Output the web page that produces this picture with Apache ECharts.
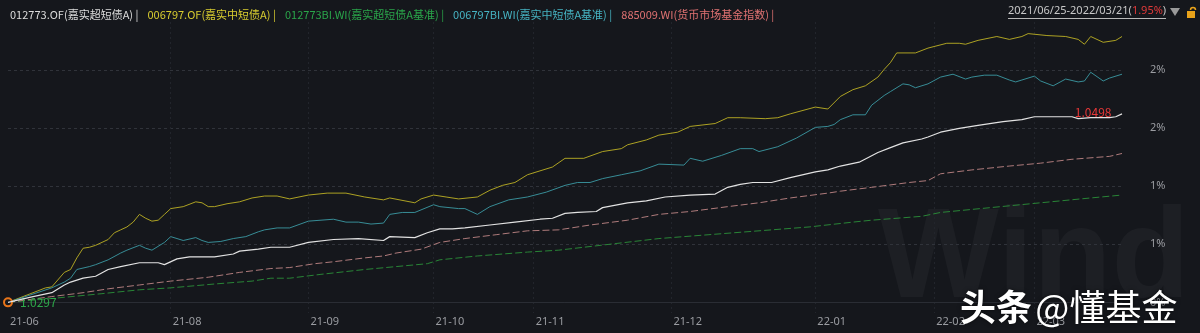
<!DOCTYPE html>
<html><head><meta charset="utf-8">
<script src="https://cdn.jsdelivr.net/npm/echarts@6/dist/echarts.min.js"></script>
<style>html,body{margin:0;padding:0;background:#15171c;overflow:hidden}#c{width:1200px;height:333px}</style>
</head><body><div id="c"></div>
<script>
// ---- categories: trading days 2021-06-25 .. 2022-03-21 ----
const startDate = '2021-06-25';
const endDate = '2022-03-21';
const holidays = ['2021-09-20','2021-09-21','2021-10-01','2021-10-04','2021-10-05','2021-10-06','2021-10-07',
  '2022-01-03','2022-01-31','2022-02-01','2022-02-02','2022-02-03','2022-02-04'];
function buildTradingDays() {
  const out = [];
  let t = Date.parse(startDate + 'T00:00:00Z');
  const end = Date.parse(endDate + 'T00:00:00Z');
  while (t <= end) {
    const d = new Date(t);
    const wd = d.getUTCDay();
    const s = d.toISOString().slice(0, 10);
    if (wd !== 0 && wd !== 6 && holidays.indexOf(s) < 0) out.push(s);
    t += 86400000;
  }
  return out;
}
const tradingDays = buildTradingDays();

// ---- series names ----
const seriesNames = ['012773.OF(嘉实超短债A)', '006797.OF(嘉实中短债A)', '012773BI.WI(嘉实超短债A基准)',
  '006797BI.WI(嘉实中短债A基准)', '885009.WI(货币市场基金指数)'];

// ---- values: cumulative return (%) at trading-day index ----
const whiteDays = [0,4,7,9,10,12,14,16,18,21,24,25,27,29,33,36,37,40,42,45,48,52,56,60,61,65,67,69,71,73,77,81,85,87,89,91,94,95,99,102,105,109,113,115,117,119,122,125,129,131,133,136,139,141,143,146,147,149,152,155,159,162,164,168,170,171,173,176,177,178];
const whiteVals = [0,0.06,0.10,0.18,0.21,0.25,0.27,0.34,0.37,0.41,0.41,0.39,0.45,0.47,0.47,0.50,0.53,0.55,0.57,0.57,0.62,0.65,0.66,0.64,0.68,0.67,0.72,0.76,0.76,0.77,0.80,0.83,0.86,0.87,0.92,0.93,0.94,0.98,1.03,1.05,1.09,1.11,1.12,1.19,1.22,1.24,1.24,1.29,1.35,1.37,1.41,1.45,1.55,1.60,1.65,1.69,1.71,1.76,1.80,1.83,1.87,1.89,1.92,1.92,1.92,1.90,1.91,1.91,1.92,1.95];

const yellowDays = [0,6,7,9,10,11,12,13,14,16,17,18,19,20,21,22,23,24,25,26,28,30,31,32,33,35,37,39,41,43,45,48,51,54,57,60,61,65,66,68,70,72,75,77,79,81,83,85,87,89,92,95,98,99,102,104,107,109,113,115,117,121,123,125,129,131,133,135,137,139,140,141,142,145,147,150,152,153,155,158,160,162,163,166,169,171,172,173,175,177,178];
const yellowVals = [0,0.15,0.16,0.31,0.34,0.46,0.56,0.57,0.59,0.65,0.72,0.75,0.78,0.83,0.91,0.87,0.84,0.85,0.91,0.97,0.99,1.04,1.03,0.99,0.99,1.02,1.04,1.08,1.10,1.10,1.07,1.11,1.13,1.13,1.09,1.06,1.08,1.03,1.07,1.11,1.09,1.07,1.09,1.16,1.21,1.24,1.32,1.36,1.40,1.49,1.49,1.56,1.59,1.63,1.68,1.73,1.76,1.82,1.85,1.91,1.91,1.90,1.91,1.95,2.02,2.00,2.13,2.20,2.24,2.33,2.41,2.48,2.58,2.58,2.63,2.68,2.68,2.67,2.71,2.75,2.72,2.75,2.78,2.76,2.75,2.72,2.67,2.75,2.69,2.71,2.75];

const greenDays = [0,7,15,21,26,33,39,42,45,50,57,62,67,69,75,83,88,96,104,112,120,128,135,138,146,149,157,165,173,178];
const greenVals = [0,0.04,0.09,0.13,0.15,0.19,0.22,0.25,0.25,0.29,0.34,0.37,0.40,0.44,0.48,0.52,0.54,0.60,0.66,0.70,0.74,0.78,0.83,0.85,0.89,0.93,0.98,1.03,1.08,1.11];

const cyanDays = [0,7,9,10,11,13,14,16,18,19,21,22,23,25,26,28,30,31,32,34,36,38,40,41,43,45,48,52,54,56,58,60,61,63,65,68,69,72,73,75,77,80,83,86,89,91,93,95,98,101,104,108,109,111,114,117,119,120,123,126,129,131,132,133,135,137,138,140,141,143,144,145,147,149,151,153,154,156,158,160,161,162,164,165,167,169,171,172,173,175,176,178];
const cyanVals = [0,0.15,0.21,0.25,0.34,0.37,0.39,0.44,0.51,0.54,0.59,0.56,0.54,0.62,0.68,0.64,0.67,0.64,0.62,0.63,0.66,0.68,0.73,0.75,0.77,0.77,0.84,0.86,0.83,0.83,0.81,0.82,0.91,0.93,0.93,1.01,0.99,0.97,0.97,0.91,0.99,1.06,1.09,1.14,1.21,1.24,1.24,1.28,1.32,1.36,1.43,1.42,1.49,1.46,1.52,1.59,1.59,1.56,1.61,1.70,1.81,1.82,1.84,1.89,1.94,1.94,2.04,2.14,2.18,2.26,2.25,2.22,2.26,2.33,2.36,2.31,2.33,2.35,2.35,2.30,2.28,2.30,2.34,2.29,2.24,2.31,2.28,2.29,2.38,2.29,2.32,2.36];

const pinkDays = [0,7,12,16,21,26,32,37,42,45,49,52,57,60,62,66,69,73,78,83,88,90,93,99,104,109,115,120,125,131,133,138,144,147,149,154,160,165,170,176,178];
const pinkVals = [0,0.06,0.10,0.14,0.18,0.22,0.26,0.31,0.35,0.36,0.40,0.42,0.46,0.48,0.51,0.55,0.62,0.66,0.70,0.74,0.75,0.77,0.80,0.85,0.91,0.94,0.99,1.03,1.08,1.13,1.15,1.19,1.24,1.26,1.33,1.37,1.41,1.44,1.48,1.51,1.54];

// ---- y ticks and NAV labels ----
const yTickValues = [0, 0.6, 1.2, 1.8, 2.4];
const startNav = 1.0297;
const endNav = 1.0498;
const periodText = '2021/06/25-2022/03/21';
const periodReturn = '1.95%';

const lineColors = ['#e2e2e2', '#bdb124', '#2a9139', '#3b9aa4', '#c08686'];
const textColors = ['#dcdcdc', '#d8cc30', '#2aa54a', '#46b3c2', '#e07272'];

function pairs(days, vals) { return days.map((d, i) => [tradingDays[d], vals[i]]); }
function isMonthStart(i) { return i === 0 || tradingDays[i].slice(0, 7) !== tradingDays[i - 1].slice(0, 7); }

const font = '"Noto Sans CJK SC", "Noto Sans", sans-serif';
const bg = '#15171c';

const chart = echarts.init(document.getElementById('c'), null, { renderer: 'canvas' });

const lastW = whiteDays.length - 1;
const seriesData = [pairs(whiteDays, whiteVals), pairs(yellowDays, yellowVals), pairs(greenDays, greenVals),
  pairs(cyanDays, cyanVals), pairs(pinkDays, pinkVals)];

const series = seriesNames.map((name, k) => ({
  name: name,
  type: 'line',
  data: seriesData[k],
  showSymbol: false,
  symbol: 'none',
  z: k === 0 ? 5 : 3,
  lineStyle: {
    color: lineColors[k],
    width: k === 0 ? 1.2 : 0.9,
    type: (k === 2 || k === 4) ? [7, 3] : 'solid'
  },
  itemStyle: { color: lineColors[k] },
  emphasis: { disabled: true }
}));

series[0].markPoint = {
  silent: true,
  animation: false,
  data: [
    {
      coord: [tradingDays[whiteDays[0]], whiteVals[0]],
      symbol: 'circle', symbolSize: 8,
      itemStyle: { color: bg, borderColor: '#e8751a', borderWidth: 2 },
      label: { show: true, formatter: startNav.toFixed(4), position: 'right', distance: 7,
        color: '#2ea84a', fontSize: 12, fontFamily: font }
    },
    {
      coord: [tradingDays[whiteDays[lastW]], whiteVals[lastW]],
      symbol: 'circle', symbolSize: 1,
      itemStyle: { color: 'rgba(0,0,0,0)' },
      label: { show: true, formatter: endNav.toFixed(4), position: 'left', distance: 10, offset: [0, -1],
        color: '#e83838', fontSize: 12, fontFamily: font }
    }
  ]
};

const option = {
  backgroundColor: bg,
  animation: false,
  textStyle: { fontFamily: font },
  legend: {
    left: 0, top: 4,
    icon: 'none', itemWidth: 0, itemHeight: 10, itemGap: 4,
    selectedMode: false,
    formatter: n => n + ' |',
    textStyle: { fontSize: 11, fontFamily: font, padding: 0 },
    data: seriesNames.map((n, k) => ({ name: n, textStyle: { color: textColors[k] } }))
  },
  grid: { left: 8, right: 78, top: 22, bottom: 20, containLabel: false },
  xAxis: {
    type: 'category',
    data: tradingDays,
    boundaryGap: false,
    axisLine: { show: true, lineStyle: { color: '#2a2d34', width: 1 } },
    axisTick: { show: false },
    axisLabel: {
      interval: (i) => isMonthStart(i) && (i === 0 || i >= 10),
      formatter: v => v.slice(2, 7),
      align: 'left', margin: 3, padding: [0, 0, 0, 2],
      color: '#9a9ca1', fontSize: 11, fontFamily: '"Noto Sans", sans-serif'
    },
    splitLine: {
      show: true,
      interval: (i) => i >= 10 && isMonthStart(i),
      lineStyle: { color: '#22252c', type: [2, 3] }
    }
  },
  yAxis: {
    type: 'value',
    position: 'right',
    min: -0.11, max: 2.9,
    axisLine: { show: false },
    axisTick: { show: false, customValues: yTickValues },
    axisLabel: {
      customValues: yTickValues,
      formatter: v => Math.round(v) + '%',
      color: '#9a9ca1', fontSize: 11, margin: 28, fontFamily: '"Noto Sans", sans-serif'
    },
    splitLine: { show: true, lineStyle: { color: '#30333a', type: [3, 3] } }
  },
  graphic: [
    { type: 'text', left: 878, top: 198, z: 0, silent: true,
      style: { text: 'Wind', fontSize: 128, fontWeight: 'bold', fontFamily: '"Liberation Sans", sans-serif',
        fill: 'rgba(255,255,255,0.035)' } },
    { type: 'text', left: 1008, top: 5, silent: true,
      style: { text: '{d|' + periodText + '(}{r|' + periodReturn + '}{d|)}',
        rich: { d: { fontSize: 11, fill: '#c8c8c8', fontFamily: '"Noto Sans", sans-serif' },
                r: { fontSize: 11, fill: '#e03a3a', fontFamily: '"Noto Sans", sans-serif' } } } },
    { type: 'line', silent: true, shape: { x1: 1008, y1: 18.5, x2: 1166, y2: 18.5 },
      style: { stroke: '#b8b8b8', lineWidth: 1 } },
    { type: 'polygon', silent: true, shape: { points: [[1170, 8], [1180, 8], [1175, 16]] },
      style: { fill: '#9a9a9a' } },
    { type: 'rect', silent: true, shape: { x: 1187, y: 11, width: 8, height: 7 }, style: { fill: '#e8a21a' } },
    { type: 'arc', silent: true, shape: { cx: 1193, cy: 10, r: 2.5, startAngle: Math.PI, endAngle: 2 * Math.PI },
      style: { stroke: '#e8a21a', lineWidth: 1.5, fill: 'none' } },
    { type: 'text', left: 960, top: 289, z: 100, silent: true,
      style: { text: '{a|头条} {b|@懂基金}',
        rich: { a: { fontSize: 36, fontWeight: 'bold', fill: '#ffffff', fontFamily: '"Noto Sans CJK SC", sans-serif' },
                b: { fontSize: 36, fontWeight: 'normal', fill: '#ffffff', fontFamily: '"Noto Sans CJK SC", sans-serif' } },
        textShadowColor: 'rgba(0,0,0,0.6)', textShadowBlur: 4 } }
  ],
  series: series
};
chart.setOption(option);
</script>
</body></html>
